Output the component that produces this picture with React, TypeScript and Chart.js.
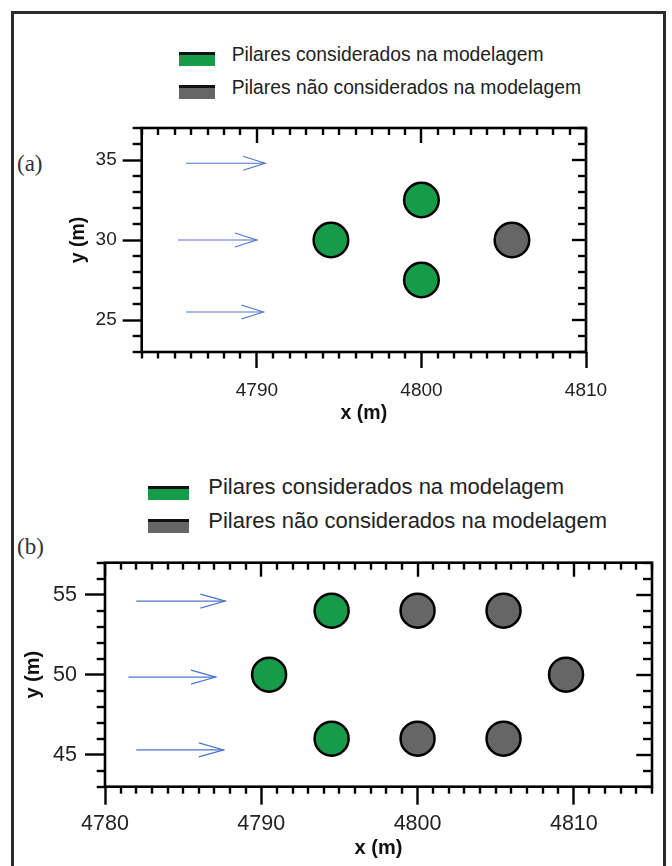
import React, { useEffect, useRef } from 'react';
import { Chart, registerables } from 'chart.js';

Chart.register(...registerables);

const FONT = "'Liberation Sans', Arial, Helvetica, sans-serif";
const SERIF = "'Liberation Serif', 'Times New Roman', serif";
const GREEN = '#169b48';
const GRAY = '#666666';
const ARROW_COLOR = '#4a74c9';
const LEGEND_LABELS = ['Pilares considerados na modelagem', 'Pilares não considerados na modelagem'];
const AXIS_TITLES = ['x (m)', 'y (m)'];
const PANEL_LABELS = ['(a)', '(b)'];

// ---- panel (a) data ----
const A_X_RANGE = [4783, 4810];
const A_Y_RANGE = [23, 37];
const A_GREEN_X = [4794.5, 4800, 4800];
const A_GREEN_Y = [30, 32.5, 27.5];
const A_GRAY_X = [4805.5];
const A_GRAY_Y = [30];
const A_ARROW_X0 = [4785.7, 4785.2, 4785.7];
const A_ARROW_X1 = [4790.5, 4790.0, 4790.4];
const A_ARROW_Y = [34.8, 30, 25.5];

// ---- panel (b) data ----
const B_X_RANGE = [4780, 4815];
const B_Y_RANGE = [43, 57];
const B_GREEN_X = [4794.5, 4790.5, 4794.5];
const B_GREEN_Y = [54, 50, 46];
const B_GRAY_X = [4800, 4805.5, 4809.5, 4800, 4805.5];
const B_GRAY_Y = [54, 54, 50, 46, 46];
const B_ARROW_X0 = [4782.0, 4781.5, 4782.0];
const B_ARROW_X1 = [4787.7, 4787.1, 4787.6];
const B_ARROW_Y = [54.6, 49.85, 45.3];

type Spec = {
  xRange: number[]; yRange: number[]; xMajor: number; yMajor: number;
  greenX: number[]; greenY: number[]; grayX: number[]; grayY: number[];
  arrowX0: number[]; arrowX1: number[]; arrowY: number[];
  pad: { left: number; top: number; right: number; bottom: number };
  yAxisWidth: number; xAxisHeight: number;
  tickFont: number; titleFont: number;
  yTickLen: number; yTickPad: number; xTickLen: number; xTickPad: number;
  yTitlePad: number; xTitlePad: number;
  m: { left: number; bottom: number; topMajor: number; topMinor: number; rightMajor: number; rightMinor: number };
  radius: number; headLen: number; headHalf: number;
};

const SPEC_A: Spec = {
  xRange: A_X_RANGE, yRange: A_Y_RANGE, xMajor: 10, yMajor: 5,
  greenX: A_GREEN_X, greenY: A_GREEN_Y, grayX: A_GRAY_X, grayY: A_GRAY_Y,
  arrowX0: A_ARROW_X0, arrowX1: A_ARROW_X1, arrowY: A_ARROW_Y,
  pad: { left: 60, top: 28, right: 86, bottom: 0 },
  yAxisWidth: 81.7, xAxisHeight: 88,
  tickFont: 19, titleFont: 19.5,
  yTickLen: 19, yTickPad: 6, xTickLen: 16, xTickPad: 11.4,
  yTitlePad: 7.4, xTitlePad: 14.3,
  m: { left: 9, bottom: 6.5, topMajor: 15, topMinor: 7, rightMajor: 14, rightMinor: 8 },
  radius: 17.3, headLen: 22, headHalf: 7,
};

const SPEC_B: Spec = {
  xRange: B_X_RANGE, yRange: B_Y_RANGE, xMajor: 10, yMajor: 5,
  greenX: B_GREEN_X, greenY: B_GREEN_Y, grayX: B_GRAY_X, grayY: B_GRAY_Y,
  arrowX0: B_ARROW_X0, arrowX1: B_ARROW_X1, arrowY: B_ARROW_Y,
  pad: { left: 15, top: 112.7, right: 20, bottom: 0 },
  yAxisWidth: 90, xAxisHeight: 79.3,
  tickFont: 21.5, titleFont: 20,
  yTickLen: 20, yTickPad: 8, xTickLen: 18, xTickPad: 6.4,
  yTitlePad: 6.7, xTitlePad: 5.7,
  m: { left: 8.3, bottom: 7, topMajor: 14, topMinor: 7, rightMajor: 15.7, rightMinor: 9 },
  radius: 17, headLen: 25, headHalf: 7,
};

const TICK_W = 2.4;

function makePlugin(spec: Spec) {
  return {
    id: 'frameTicks',
    afterDraw(chart: any) {
      const { ctx, chartArea: a } = chart;
      const xs = chart.scales.x;
      const ys = chart.scales.y;
      const m = spec.m;
      ctx.save();
      ctx.strokeStyle = '#000';
      ctx.lineWidth = TICK_W;
      const line = (x1: number, y1: number, x2: number, y2: number) => {
        ctx.beginPath();
        ctx.moveTo(x1, y1);
        ctx.lineTo(x2, y2);
        ctx.stroke();
      };
      for (const t of xs.ticks) {
        const px = Math.round(xs.getPixelForValue(t.value));
        const major = Math.round(t.value) % spec.xMajor === 0;
        if (!major) line(px, a.bottom, px, a.bottom + m.bottom);
        line(px, a.top, px, a.top + (major ? m.topMajor : m.topMinor));
      }
      for (const t of ys.ticks) {
        const py = Math.round(ys.getPixelForValue(t.value));
        const major = Math.round(t.value) % spec.yMajor === 0;
        if (!major) line(a.left - m.left, py, a.left, py);
        line(a.right - (major ? m.rightMajor : m.rightMinor), py, a.right, py);
      }
      ctx.lineWidth = 2.6;
      ctx.strokeRect(a.left, a.top, a.right - a.left, a.bottom - a.top);
      chart.data.datasets.forEach((ds: any, i: number) => {
        if (!ds.arrow) return;
        const meta = chart.getDatasetMeta(i);
        const p0 = meta.data[0];
        const p1 = meta.data[1];
        const ang = Math.atan2(p1.y - p0.y, p1.x - p0.x);
        const cos = Math.cos(ang), sin = Math.sin(ang);
        const bx = p1.x - spec.headLen * cos;
        const by = p1.y - spec.headLen * sin;
        ctx.strokeStyle = ds.borderColor;
        ctx.lineWidth = 1.1;
        ctx.beginPath();
        ctx.moveTo(bx - spec.headHalf * sin, by + spec.headHalf * cos);
        ctx.lineTo(p1.x, p1.y);
        ctx.lineTo(bx + spec.headHalf * sin, by - spec.headHalf * cos);
        ctx.stroke();
      });
      ctx.restore();
    },
  };
}

function PilarChart({ spec, top, height }: { spec: Spec; top: number; height: number }) {
  const ref = useRef<HTMLCanvasElement | null>(null);
  useEffect(() => {
    if (!ref.current) return;
    const pts = (xs: number[], ys: number[]) => xs.map((x, i) => ({ x, y: ys[i] }));
    const arrows = spec.arrowY.map((y, i) => ({
      type: 'line',
      arrow: true,
      data: [{ x: spec.arrowX0[i], y }, { x: spec.arrowX1[i], y }],
      showLine: true,
      borderColor: ARROW_COLOR,
      borderWidth: 1.1,
      pointRadius: 0,
      fill: false,
    }));
    const tickColor = (major: number) => (c: any) =>
      c.tick && Math.round(c.tick.value) % major === 0 ? '#000' : 'rgba(0,0,0,0)';
    const chart = new Chart(ref.current, {
      type: 'scatter',
      data: {
        datasets: [
          {
            label: LEGEND_LABELS[0],
            data: pts(spec.greenX, spec.greenY),
            pointRadius: spec.radius,
            pointBackgroundColor: GREEN,
            pointBorderColor: '#000',
            pointBorderWidth: 2.5,
          },
          {
            label: LEGEND_LABELS[1],
            data: pts(spec.grayX, spec.grayY),
            pointRadius: spec.radius,
            pointBackgroundColor: GRAY,
            pointBorderColor: '#000',
            pointBorderWidth: 2.5,
          },
          ...arrows,
        ] as any,
      },
      options: {
        animation: false,
        responsive: true,
        maintainAspectRatio: false,
        events: [],
        layout: { padding: spec.pad },
        plugins: { legend: { display: false }, tooltip: { enabled: false } },
        scales: {
          x: {
            type: 'linear',
            position: 'bottom',
            min: spec.xRange[0],
            max: spec.xRange[1],
            afterFit: (s: any) => { s.height = spec.xAxisHeight; },
            border: { display: false },
            grid: {
              drawOnChartArea: false,
              drawTicks: true,
              tickLength: spec.xTickLen,
              tickWidth: TICK_W,
              tickColor: tickColor(spec.xMajor),
            },
            ticks: {
              stepSize: 1,
              autoSkip: false,
              maxRotation: 0,
              minRotation: 0,
              padding: spec.xTickPad,
              color: '#222',
              font: { family: FONT, size: spec.tickFont },
              callback: (v: any) => (Math.round(Number(v)) % spec.xMajor === 0 ? String(v) : ''),
            },
            title: {
              display: true,
              text: AXIS_TITLES[0],
              color: '#111',
              font: { family: FONT, size: spec.titleFont, weight: 'bold' },
              padding: { top: 0, bottom: spec.xTitlePad },
            },
          },
          y: {
            type: 'linear',
            position: 'left',
            min: spec.yRange[0],
            max: spec.yRange[1],
            afterFit: (s: any) => { s.width = spec.yAxisWidth; },
            border: { display: false },
            grid: {
              drawOnChartArea: false,
              drawTicks: true,
              tickLength: spec.yTickLen,
              tickWidth: TICK_W,
              tickColor: tickColor(spec.yMajor),
            },
            ticks: {
              stepSize: 1,
              autoSkip: false,
              padding: spec.yTickPad,
              color: '#222',
              font: { family: FONT, size: spec.tickFont },
              callback: (v: any) => (Math.round(Number(v)) % spec.yMajor === 0 ? String(v) : ''),
            },
            title: {
              display: true,
              text: AXIS_TITLES[1],
              color: '#111',
              font: { family: FONT, size: spec.titleFont, weight: 'bold' },
              padding: { top: spec.yTitlePad, bottom: 0 },
            },
          },
        },
      } as any,
      plugins: [makePlugin(spec)],
    });
    return () => chart.destroy();
  }, [spec]);
  return (
    <div style={{ position: 'absolute', left: 0, top, width: 672, height }}>
      <canvas ref={ref} />
    </div>
  );
}

function Legend({ left, top, swW, textLeft, font, gap, textTop }: any) {
  const sw = (color: string, t: number) => (
    <div
      style={{
        position: 'absolute', left, top: t, width: swW, height: 10.5,
        borderTop: '3px solid #111', background: color,
      }}
    />
  );
  const txt = (s: string, t: number) => (
    <div
      style={{
        position: 'absolute', left: textLeft, top: t, fontFamily: FONT, fontSize: font,
        lineHeight: 1, whiteSpace: 'nowrap', color: '#222',
      }}
    >
      {s}
    </div>
  );
  return (
    <>
      {sw(GREEN, top)}
      {sw(GRAY, top + gap)}
      {txt(LEGEND_LABELS[0], textTop)}
      {txt(LEGEND_LABELS[1], textTop + gap)}
    </>
  );
}

export default function App() {
  return (
    <div style={{ position: 'absolute', left: 0, top: 0, width: 672, height: 866, background: '#fff', overflow: 'hidden' }}>
      <div
        style={{
          position: 'absolute', left: 11, top: 11, width: 655, height: 900, boxSizing: 'border-box',
          border: '3px solid #2b2b2b', borderBottom: 'none',
        }}
      />
      <Legend left={179} top={52} swW={36} textLeft={231.7} font={19.3} gap={33} textTop={45.2} />
      <Legend left={148.3} top={486} swW={40.7} textLeft={208.3} font={22} gap={33.3} textTop={476.4} />
      <div style={{ position: 'absolute', left: 17, top: 151.5, fontFamily: SERIF, fontSize: 23, lineHeight: 1, color: '#333' }}>
        {PANEL_LABELS[0]}
      </div>
      <div style={{ position: 'absolute', left: 17, top: 535, fontFamily: SERIF, fontSize: 23, lineHeight: 1, color: '#333' }}>
        {PANEL_LABELS[1]}
      </div>
      <PilarChart spec={SPEC_A} top={100} height={340} />
      <PilarChart spec={SPEC_B} top={450} height={416} />
    </div>
  );
}
